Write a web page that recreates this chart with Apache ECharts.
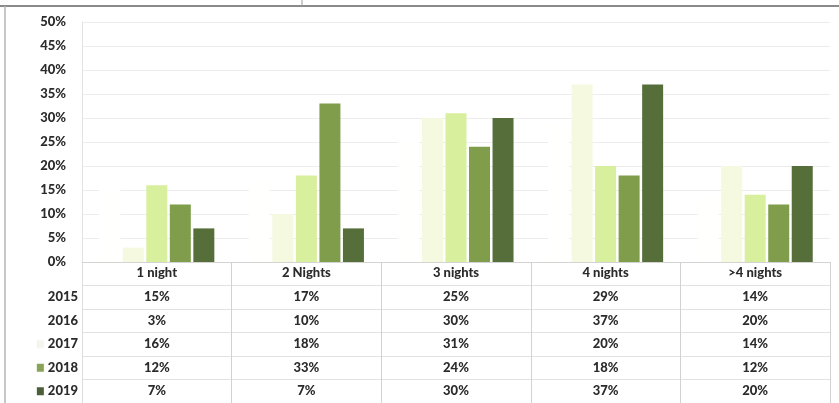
<!DOCTYPE html>
<html>
<head>
<meta charset="utf-8">
<script src="https://cdn.jsdelivr.net/npm/echarts@6/dist/echarts.min.js"></script>
<style>
  html, body { margin: 0; padding: 0; background: #fff; }
  #chart { width: 839px; height: 403px; }
</style>
</head>
<body>
<div id="chart"></div>
<script>
// Length of stay, share of visitors by year (%)
const categories = ['1 night', '2 Nights', '3 nights', '4 nights', '>4 nights'];
const years = ['2015', '2016', '2017', '2018', '2019'];
const v2015 = [15, 17, 25, 29, 14];
const v2016 = [3, 10, 30, 37, 20];
const v2017 = [16, 18, 31, 20, 14];
const v2018 = [12, 33, 24, 18, 12];
const v2019 = [7, 7, 30, 37, 20];
const yTicks = [0, 5, 10, 15, 20, 25, 30, 35, 40, 45, 50];

const seriesValues = [v2015, v2016, v2017, v2018, v2019];
const colors = ['#fffffd', '#f4f9df', '#d8ef9d', '#7f9d4b', '#566f3a'];
const keyColors = ['#ffffff', '#ffffff', '#f3f6ec', '#86a356', '#4c5e3a'];
const textColor = '#2b2b2b';
const fontFamily = 'Lato, "Open Sans", sans-serif';

const chart = echarts.init(document.getElementById('chart'), null, { renderer: 'canvas' });

// bar series on the main grid
const barSeries = years.map((y, i) => ({
  name: y,
  type: 'bar',
  xAxisIndex: 0,
  yAxisIndex: 0,
  barWidth: 21,
  barGap: '12%',
  itemStyle: { color: colors[i] },
  data: seriesValues[i]
}));

// data table cells: [category, year, value]
const cellData = [];
years.forEach((y, i) => {
  categories.forEach((c, j) => {
    cellData.push([c, y, seriesValues[i][j]]);
  });
});

const boldText = { fontFamily, fontWeight: 900, fontSize: 13, color: textColor };

const rich = {};
years.forEach((y, i) => {
  rich['k' + i] = { width: 7, height: 8, backgroundColor: keyColors[i] };
  rich['t' + i] = Object.assign({ padding: [0, 0, 0, 4] }, boldText);
});

const option = {
  backgroundColor: '#fff',
  animation: false,
  textStyle: { fontFamily },
  grid: [
    { left: 82, right: 9, top: 22, height: 240 },
    { left: 82, right: 9, top: 262, height: 144 }
  ],
  xAxis: [
    {
      type: 'category', gridIndex: 0, data: categories,
      axisLine: { lineStyle: { color: '#d4d4d4' } },
      axisTick: { show: false },
      axisLabel: Object.assign({ margin: 4 }, boldText),
      splitLine: { show: false }
    },
    {
      type: 'category', gridIndex: 1, data: categories,
      axisLine: { show: false },
      axisTick: { show: false },
      axisLabel: { show: false },
      splitLine: { show: true, lineStyle: { color: '#d2d2d2' } }
    }
  ],
  yAxis: [
    {
      type: 'value', gridIndex: 0, min: 0, max: 50, interval: 5,
      axisLine: { show: true, lineStyle: { color: '#e2e2e2' } },
      axisTick: { show: false },
      axisLabel: Object.assign({
        margin: 16,
        formatter: v => (yTicks.includes(v) ? v + '%' : '')
      }, boldText),
      splitLine: { lineStyle: { color: '#ededed' } }
    },
    {
      type: 'category', gridIndex: 1, inverse: true,
      data: [''].concat(years),
      axisLine: { show: true, lineStyle: { color: '#dcdcdc' } },
      axisTick: { show: false },
      axisLabel: {
        margin: 4,
        formatter: (v) => {
          const i = years.indexOf(v);
          if (i < 0) return '';
          return '{k' + i + '|}{t' + i + '|' + v + '}';
        },
        rich
      },
      splitLine: { show: true, lineStyle: { color: '#e2e2e2' } }
    }
  ],
  series: barSeries.concat([{
    type: 'custom',
    xAxisIndex: 1,
    yAxisIndex: 1,
    silent: true,
    data: cellData,
    renderItem: (params, api) => {
      const pt = api.coord([api.value(0), api.value(1)]);
      return {
        type: 'text',
        x: pt[0],
        y: pt[1],
        style: {
          text: api.value(2) + '%',
          fill: textColor,
          fontFamily: fontFamily,
          fontWeight: 900,
          fontSize: 13,
          align: 'center',
          verticalAlign: 'middle'
        }
      };
    }
  }]),
  graphic: [
    { type: 'line', shape: { x1: 0, y1: 6, x2: 839, y2: 6 }, style: { stroke: '#8a8a8a', lineWidth: 2 } },
    { type: 'line', shape: { x1: 5, y1: 6, x2: 5, y2: 403 }, style: { stroke: '#b5b5b5', lineWidth: 1.5 } },
    { type: 'line', shape: { x1: 302, y1: 0, x2: 302, y2: 6 }, style: { stroke: '#9a9a9a', lineWidth: 1 } }
  ]
};

chart.setOption(option);
</script>
</body>
</html>
